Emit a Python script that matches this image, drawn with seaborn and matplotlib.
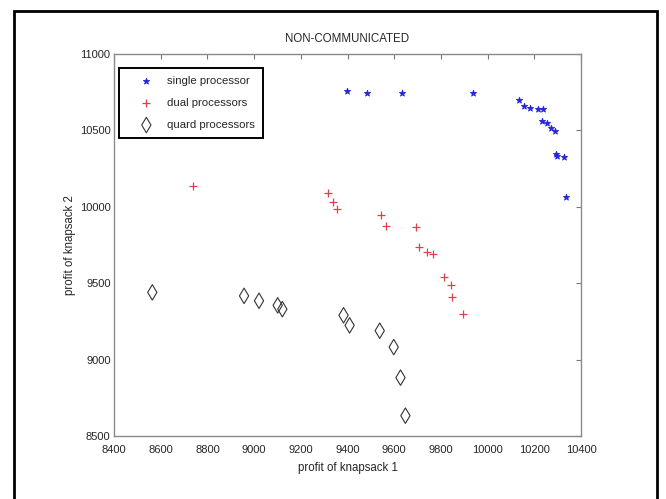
import matplotlib
matplotlib.use("Agg")
import matplotlib.pyplot as plt
from matplotlib.patches import Rectangle
import seaborn as sns
import pandas as pd

# Pareto fronts reached by each configuration (profit of knapsack 1 vs knapsack 2)
single_x = [9397, 9485, 9632, 9936, 10135, 10156, 10182, 10216, 10236, 10233,
            10253, 10270, 10287, 10294, 10298, 10329, 10336]
single_y = [10755, 10745, 10745, 10748, 10699, 10662, 10649, 10642, 10638, 10563,
            10546, 10514, 10498, 10345, 10335, 10328, 10066]

dual_x = [8737, 9318, 9336, 9353, 9544, 9565, 9693, 9708, 9739, 9768,
          9815, 9843, 9846, 9893]
dual_y = [10138, 10088, 10033, 9983, 9946, 9874, 9870, 9735, 9706, 9691,
          9542, 9488, 9407, 9298]

quard_x = [8564, 8957, 9021, 9101, 9121, 9383, 9409, 9538, 9598, 9627, 9648]
quard_y = [9440, 9417, 9385, 9355, 9330, 9290, 9224, 9189, 9082, 8882, 8633]

series_labels = ["single processor", "dual processors", "quard processors"]
title_text = "NON-COMMUNICATED"
x_label = "profit of knapsack 1"
y_label = "profit of knapsack 2"
x_ticks = list(range(8400, 10401, 200))
y_ticks = list(range(8500, 11001, 500))

sns.set_style("white")
plt.rcParams["font.family"] = ["Liberation Sans", "DejaVu Sans"]

df_single = pd.DataFrame({"x": single_x, "y": single_y})
df_dual = pd.DataFrame({"x": dual_x, "y": dual_y})
df_quard = pd.DataFrame({"x": quard_x, "y": quard_y})

fig = plt.figure(figsize=(6.66, 4.99), dpi=100, facecolor="white")
ax = fig.add_axes([114 / 666, 1 - 436 / 499, 467 / 666, 382 / 499])

sns.scatterplot(data=df_single, x="x", y="y", ax=ax, marker="*", s=22,
                color="#2323dc", edgecolor="#2323dc", linewidth=0.6,
                label=series_labels[0], zorder=3)
sns.scatterplot(data=df_dual, x="x", y="y", ax=ax, marker="+", s=40,
                color="#e0404c", linewidth=0.9,
                label=series_labels[1], zorder=3)
sns.scatterplot(data=df_quard, x="x", y="y", ax=ax, marker="d", s=62,
                color="#404040", linewidth=0.8,
                label=series_labels[2], zorder=3)
# open diamonds
ax.collections[2].set_facecolor("none")
ax.collections[2].set_edgecolor("#333333")

ax.set_xlim(8400, 10400)
ax.set_ylim(8500, 11000)
ax.set_xticks(x_ticks)
ax.set_yticks(y_ticks)
ax.tick_params(axis="both", direction="in", length=3.5, width=0.8,
               color="#777777", labelsize=8, top=True, right=True)
ax.tick_params(axis="x", pad=6.5)
ax.tick_params(axis="y", pad=2.5)
for sp in ax.spines.values():
    sp.set_color("#8a8a8a")
    sp.set_linewidth(1.0)

ax.set_title(title_text, fontsize=8.3, pad=9)
ax.set_xlabel(x_label, fontsize=8.3, labelpad=5)
ax.set_ylabel(y_label, fontsize=8.3, labelpad=3)

leg = ax.legend(loc="upper left", bbox_to_anchor=(0.0107, 0.963),
                borderaxespad=0, fontsize=8.2, frameon=True, fancybox=False,
                framealpha=1, edgecolor="black", handlelength=3.4,
                handletextpad=0.1, labelspacing=1.05, borderpad=0.7)
leg.get_frame().set_linewidth(1.4)

# outer frame around the figure
fig.patches.append(Rectangle((14 / 666, -0.1), (657 - 14) / 666, 1.1 - 11 / 499,
                             transform=fig.transFigure, fill=False,
                             edgecolor="black", linewidth=2, clip_on=False))

fig.savefig("out.png", dpi=100, facecolor="white")
